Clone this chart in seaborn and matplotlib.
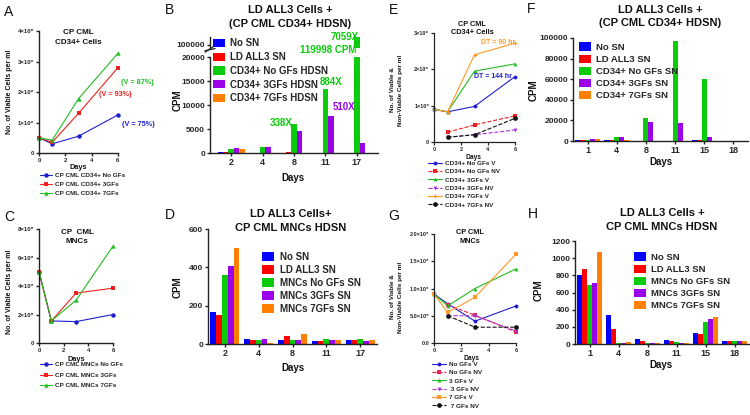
import numpy as np
import pandas as pd
import matplotlib
matplotlib.use("Agg")
import matplotlib.pyplot as plt
import seaborn as sns

# ------------------------------------------------------------------ data
days_line = [0, 1, 3, 6]
days_nv = [1, 3, 6]

a_labels = ["CP CML CD34+ No GFs", "CP CML CD34+ 3GFs", "CP CML CD34+ 7GFs"]
a_no_gf = [5.0e5, 3.0e5, 5.5e5, 1.25e6]
a_3gf = [5.0e5, 3.5e5, 1.3e6, 2.8e6]
a_7gf = [5.0e5, 4.2e5, 1.78e6, 3.27e6]
a_yticks = [0, 1e6, 2e6, 3e6, 4e6]
a_yticklabels = ["0", "1×10⁶", "2×10⁶", "3×10⁶", "4×10⁶"]

c_labels = ["CP CML MNCs No GFs", "CP CML MNCs 3GFs", "CP CML MNCs 7GFs"]
c_no_gf = [5.0e5, 1.55e5, 1.5e5, 2.0e5]
c_3gf = [5.0e5, 1.55e5, 3.5e5, 3.85e5]
c_7gf = [5.0e5, 1.55e5, 3.0e5, 6.8e5]
c_yticks = [0, 2e5, 4e5, 6e5, 8e5]
c_yticklabels = ["0", "2×10⁵", "4×10⁵", "6×10⁵", "8×10⁵"]

e_labels = ["CD34+ No GFs V", "CD34+ No GFs NV", "CD34+ 3GFs V",
            "CD34+ 3GFs NV", "CD34+ 7GFs V", "CD34+ 7GFs NV"]
e_no_v = [0.9e6, 0.83e6, 0.98e6, 1.8e6]
e_no_nv = [0.27e6, 0.47e6, 0.72e6]
e_3_v = [0.9e6, 0.83e6, 1.95e6, 2.15e6]
e_3_nv = [0.13e6, 0.2e6, 0.33e6]
e_7_v = [0.9e6, 0.83e6, 2.4e6, 2.72e6]
e_7_nv = [0.13e6, 0.2e6, 0.65e6]
e_yticks = [0, 1e6, 2e6, 3e6]
e_yticklabels = ["0", "1×10⁶", "2×10⁶", "3×10⁶"]

g_labels = ["No GFs V", "No GFs NV", "3 GFs V", " 3 GFs NV", "7 GFs V", " 7 GFs NV"]
g_no_v = [0.9e6, 0.72e6, 0.4e6, 0.68e6]
g_no_nv = [0.7e6, 0.51e6, 0.2e6]
g_3_v = [0.9e6, 0.68e6, 1.0e6, 1.36e6]
g_3_nv = [0.5e6, 0.5e6, 0.22e6]
g_7_v = [0.9e6, 0.56e6, 0.84e6, 1.63e6]
g_7_nv = [0.5e6, 0.29e6, 0.29e6]
g_yticks = [0, 5e5, 1e6, 1.5e6, 2e6]
g_yticklabels = ["0.0", "5.0×10⁵", "1.0×10⁶", "1.5×10⁶", "2.0×10⁶"]

b_days = ["2", "4", "8", "11", "17"]
b_groups = ["No SN", "LD ALL3 SN", "CD34+ No GFs HDSN", "CD34+ 3GFs HDSN", "CD34+ 7GFs HDSN"]
b_no_sn = [250, 100, 100, 100, 100]
b_ld_sn = [250, 100, 150, 100, 100]
b_no_gf = [750, 1200, 6100, 13300, 119998]
b_3gf = [1000, 1350, 4600, 7700, 2000]
b_7gf = [750, 100, 100, 100, 100]

d_days = ["2", "4", "8", "11", "17"]
d_groups = ["No SN", "LD ALL3 SN", "MNCs No GFs SN", "MNCs 3GFs SN", "MNCs 7GFs SN"]
d_no_sn = [165, 28, 20, 18, 22]
d_ld_sn = [150, 20, 42, 18, 22]
d_no_gf = [360, 22, 22, 28, 25]
d_3gf = [405, 28, 22, 20, 18]
d_7gf = [500, 4, 52, 22, 22]

f_days = ["1", "4", "8", "11", "15", "18"]
f_groups = ["No SN", "LD ALL3 SN", "CD34+ No GFs SN", "CD34+ 3GFs SN", "CD34+ 7GFs SN"]
f_no_sn = [1000, 500, 200, 200, 500, 200]
f_ld_sn = [1000, 500, 200, 200, 500, 200]
f_no_gf = [1000, 3500, 22500, 97500, 60000, 300]
f_3gf = [1500, 4000, 18000, 17000, 3500, 300]
f_7gf = [1500, 500, 200, 200, 200, 300]

h_days = ["1", "4", "8", "11", "15", "18"]
h_groups = ["No SN", "LD ALL3 SN", "MNCs No GFs SN", "MNCs 3GFs SN", "MNCs 7GFs SN"]
h_no_sn = [800, 335, 55, 45, 130, 30]
h_ld_sn = [870, 180, 40, 35, 120, 30]
h_no_gf = [690, 15, 15, 22, 260, 30]
h_3gf = [715, 15, 15, 15, 295, 30]
h_7gf = [1070, 20, 15, 15, 310, 35]

bar_colors = ["#0000FF", "#FF0000", "#0ACC0A", "#9B00E8", "#FF8000"]

# ------------------------------------------------------------------ setup
sns.set_theme(style="ticks")
plt.rcParams["font.family"] = ["Liberation Sans", "DejaVu Sans"]
plt.rcParams["font.weight"] = "bold"
plt.rcParams["axes.linewidth"] = 1.0

W, H = 750, 415
fig = plt.figure(figsize=(W / 100, H / 100), dpi=100)
fig.patch.set_facecolor("white")


def box(x0, y0, x1, y1):
    return [x0 / W, 1 - y1 / H, (x1 - x0) / W, (y1 - y0) / H]


def ftext(x, y, s, size=7, color="#111111", **kw):
    kw.setdefault("ha", "center")
    kw.setdefault("va", "center")
    fig.text(x / W, 1 - y / H, s, fontsize=size, color=color, **kw)


def style(ax, labelsize=6, lw=1.0):
    sns.despine(ax=ax)
    for s in ("left", "bottom"):
        ax.spines[s].set_linewidth(lw)
        ax.spines[s].set_color("#222222")
    ax.tick_params(length=2.5, width=lw, labelsize=labelsize, pad=1, color="#222222")
    ax.patch.set_visible(False)
    ax.set_xlabel("")
    ax.set_ylabel("")


def long_df(days, groups, series):
    rows = []
    for g, vals in zip(groups, series):
        for d, v in zip(days, vals):
            rows.append({"Day": d, "Group": g, "CPM": v})
    return pd.DataFrame(rows)


def bars(ax, df, days, groups, legend):
    sns.barplot(data=df, x="Day", y="CPM", hue="Group", order=days, hue_order=groups,
                palette=bar_colors, saturation=1, width=0.86, errorbar=None,
                linewidth=0, ax=ax, legend=legend)


def bar_legend(ax, x, y, fs=7, spacing=0.35):
    sns.move_legend(ax, loc="upper left", bbox_to_anchor=(x / W, 1 - y / H),
                    bbox_transform=fig.transFigure, frameon=False, title=None,
                    fontsize=fs, handlelength=1.25, handleheight=0.95,
                    handletextpad=0.55, labelspacing=spacing, borderpad=0,
                    borderaxespad=0)


def line_legend(ax, x, y, fs=4.6, spacing=0.55, hl=1.9):
    ax.legend(loc="upper left", bbox_to_anchor=(x / W, 1 - y / H),
              bbox_transform=fig.transFigure, frameon=False, fontsize=fs,
              handlelength=hl, handletextpad=0.5, labelspacing=spacing,
              borderpad=0, borderaxespad=0)


def line(ax, x, y, color, marker, ls, label, ms=3.2):
    sns.lineplot(x=x, y=y, ax=ax, color=color, marker=marker, linestyle=ls,
                 linewidth=0.8, markersize=ms, markeredgewidth=0, label=label)
    for ln in ax.lines:
        ln.set_clip_on(False)


# ------------------------------------------------------------------ A
axA = fig.add_axes(box(39, 31, 118, 153))
line(axA, days_line, a_no_gf, "#1F1FD0", "o", "-", a_labels[0])
line(axA, days_line, a_3gf, "#F02020", "s", "-", a_labels[1])
line(axA, days_line, a_7gf, "#22BB22", "^", "-", a_labels[2])
axA.set_xlim(0, 6)
axA.set_ylim(0, 4e6)
axA.set_xticks([0, 2, 4, 6])
axA.set_yticks(a_yticks, a_yticklabels)
style(axA, 4.3)
line_legend(axA, 40, 173)
ftext(78, 33, "CP CML", 5.8)
ftext(78, 43, "CD34+ Cells", 5.8)
ftext(78, 167, "Days", 5.3)
ftext(10, 92, "No. of Viable Cells per ml", 5.0, rotation=90)
ftext(137, 83, "(V = 87%)", 5.2, color="#22BB22")
ftext(115, 95, "(V = 93%)", 5.2, color="#F02020")
ftext(138, 124, "(V = 75%)", 5.2, color="#1F1FD0")
ftext(9, 12, "A", 10, fontweight="normal")

# ------------------------------------------------------------------ C
axC = fig.add_axes(box(39, 229, 113, 343))
line(axC, days_line, c_no_gf, "#1F1FD0", "o", "-", c_labels[0])
line(axC, days_line, c_3gf, "#F02020", "s", "-", c_labels[1])
line(axC, days_line, c_7gf, "#22BB22", "^", "-", c_labels[2])
axC.set_xlim(0, 6)
axC.set_ylim(0, 8e5)
axC.set_xticks([0, 2, 4, 6])
axC.set_yticks(c_yticks, c_yticklabels)
style(axC, 4.3)
line_legend(axC, 40, 362, spacing=0.75)
ftext(77, 232, "CP  CML", 5.8)
ftext(77, 241, "MNCs", 5.8)
ftext(76, 359, "Days", 5.3)
ftext(10, 292, "No. of Viable Cells per ml", 5.0, rotation=90)
ftext(9, 217, "C", 10, fontweight="normal")

# ------------------------------------------------------------------ B (broken axis)
dfB = long_df(b_days, b_groups, [b_no_sn, b_ld_sn, b_no_gf, b_3gf, b_7gf])
axB = fig.add_axes(box(210, 57, 378, 153))
bars(axB, dfB, b_days, b_groups, True)
axB.set_ylim(0, 20000)
axB.set_yticks([0, 5000, 10000, 15000, 20000])
style(axB, 6)
axB.tick_params(axis="x", labelsize=6.5)
bar_legend(axB, 213, 38.5, fs=7, spacing=0.38)
axBt = fig.add_axes(box(210, 37, 378, 48))
bars(axBt, dfB, b_days, b_groups, False)
axBt.set_ylim(92000, 121000)
axBt.set_yticks([100000])
style(axBt, 6)
axBt.spines["bottom"].set_visible(False)
axBt.tick_params(axis="x", bottom=False, labelbottom=False)
# break marks
for yy in (0.0, 1.0):
    pass
axBt.plot([-0.03, 0.03], [-0.25, -0.05], transform=axBt.transAxes, color="#222222",
          lw=0.9, clip_on=False)
axB.plot([-0.03, 0.03], [1.05, 1.12], transform=axB.transAxes, color="#222222",
         lw=0.9, clip_on=False)
ftext(290, 10, "LD ALL3 Cells +", 8)
ftext(290, 24, "(CP CML CD34+ HDSN)", 8)
ftext(178, 100, "CPM", 7, rotation=90)
ftext(293, 178, "Days", 7)
ftext(281, 123, "338X", 7, color="#0ACC0A")
ftext(331, 82, "884X", 7, color="#0ACC0A")
ftext(344, 107, "510X", 7, color="#9B00E8")
ftext(345, 37, "7059X", 7, color="#0ACC0A")
ftext(328, 50, "119998 CPM", 7, color="#0ACC0A")
ftext(170, 10, "B", 10, fontweight="normal")

# ------------------------------------------------------------------ D
dfD = long_df(d_days, d_groups, [d_no_sn, d_ld_sn, d_no_gf, d_3gf, d_7gf])
axD = fig.add_axes(box(208, 229, 377, 344))
bars(axD, dfD, d_days, d_groups, True)
axD.set_ylim(0, 600)
axD.set_yticks([0, 200, 400, 600])
style(axD, 6)
axD.tick_params(axis="x", labelsize=6.5)
bar_legend(axD, 262, 252, fs=7, spacing=0.3)
ftext(291, 214, "LD ALL3 Cells+", 8)
ftext(291, 228, "CP CML MNCs HDSN", 8)
ftext(178, 287, "CPM", 7, rotation=90)
ftext(293, 368, "Days", 7)
ftext(170, 215, "D", 10, fontweight="normal")

# ------------------------------------------------------------------ E
axE = fig.add_axes(box(434, 33, 515, 142))
line(axE, days_line, e_no_v, "#1F1FD0", "o", "-", e_labels[0], 2.8)
line(axE, days_nv, e_no_nv, "#F02020", "s", "--", e_labels[1], 2.8)
line(axE, days_line, e_3_v, "#22BB22", "^", "-", e_labels[2], 2.8)
line(axE, days_nv, e_3_nv, "#AA33DD", "v", "--", e_labels[3], 2.8)
line(axE, days_line, e_7_v, "#FF9922", "P", "-", e_labels[4], 2.8)
line(axE, days_nv, e_7_nv, "#111111", "o", "--", e_labels[5], 3.4)
axE.set_xlim(0, 6)
axE.set_ylim(0, 3e6)
axE.set_xticks([0, 2, 4, 6])
axE.set_yticks(e_yticks, e_yticklabels)
style(axE, 4.0, lw=0.9)
line_legend(axE, 428, 160.5, fs=4.6, spacing=0.45, hl=2.2)
ftext(472, 24, "CP CML", 5.3)
ftext(472, 32, "CD34+ Cells", 5.3)
ftext(474, 157, "Days", 4.8)
ftext(393, 90, "No. of Viable &", 4.6, rotation=90)
ftext(401, 90, "Non-Viable Cells per ml", 4.6, rotation=90)
ftext(498, 43, "DT = 90 hr", 5.0, color="#FF9922")
ftext(493, 76, "DT = 144 hr", 5.0, color="#1F1FD0")
ftext(394, 10, "E", 10, fontweight="normal")

# ------------------------------------------------------------------ G
axG = fig.add_axes(box(434, 234, 516, 343))
line(axG, days_line, g_no_v, "#1F1FD0", "o", "-", g_labels[0], 2.8)
line(axG, days_nv, g_no_nv, "#F02050", "s", "--", g_labels[1], 2.8)
line(axG, days_line, g_3_v, "#22BB22", "^", "-", g_labels[2], 2.8)
line(axG, days_nv, g_3_nv, "#AA33DD", "v", "--", g_labels[3], 2.8)
line(axG, days_line, g_7_v, "#FF9922", "s", "-", g_labels[4], 2.4)
line(axG, days_nv, g_7_nv, "#111111", "o", "--", g_labels[5], 3.4)
axG.set_xlim(0, 6)
axG.set_ylim(0, 2e6)
axG.set_xticks([0, 2, 4, 6])
axG.set_yticks(g_yticks, g_yticklabels)
style(axG, 4.0, lw=0.9)
line_legend(axG, 432, 361.5, fs=4.6, spacing=0.45, hl=2.2)
ftext(470, 232, "CP CML", 5.3)
ftext(470, 241, "MNCs", 5.3)
ftext(472, 358, "Days", 4.8)
ftext(393, 297, "No. of Viable &", 4.6, rotation=90)
ftext(401, 297, "Non-Viable Cells per ml", 4.6, rotation=90)
ftext(394, 216, "G", 10, fontweight="normal")

# ------------------------------------------------------------------ F
dfF = long_df(f_days, f_groups, [f_no_sn, f_ld_sn, f_no_gf, f_3gf, f_7gf])
axF = fig.add_axes(box(573, 38, 748, 141))
bars(axF, dfF, f_days, f_groups, True)
axF.set_ylim(0, 100000)
axF.set_yticks([0, 20000, 40000, 60000, 80000, 100000])
style(axF, 6)
axF.tick_params(axis="x", labelsize=6.5)
bar_legend(axF, 579, 42.5, fs=6.8, spacing=0.3)
ftext(660, 10, "LD ALL3 Cells +", 8)
ftext(660, 23, "(CP CML CD34+ HDSN)", 8)
ftext(534, 90, "CPM", 7, rotation=90)
ftext(661, 162, "Days", 7)
ftext(531, 9, "F", 10, fontweight="normal")

# ------------------------------------------------------------------ H
dfH = long_df(h_days, h_groups, [h_no_sn, h_ld_sn, h_no_gf, h_3gf, h_7gf])
axH = fig.add_axes(box(575, 241, 749, 344))
bars(axH, dfH, h_days, h_groups, True)
axH.set_ylim(0, 1200)
axH.set_yticks([0, 200, 400, 600, 800, 1000, 1200])
style(axH, 6)
axH.tick_params(axis="x", labelsize=6.5)
bar_legend(axH, 634, 252.5, fs=6.8, spacing=0.3)
ftext(662, 213, "LD ALL3 Cells +", 8)
ftext(662, 227, "CP CML MNCs HDSN", 8)
ftext(539, 290, "CPM", 7, rotation=90)
ftext(661, 365, "Days", 7)
ftext(533, 214, "H", 10, fontweight="normal")

fig.savefig("out.png", dpi=100, facecolor="white")
